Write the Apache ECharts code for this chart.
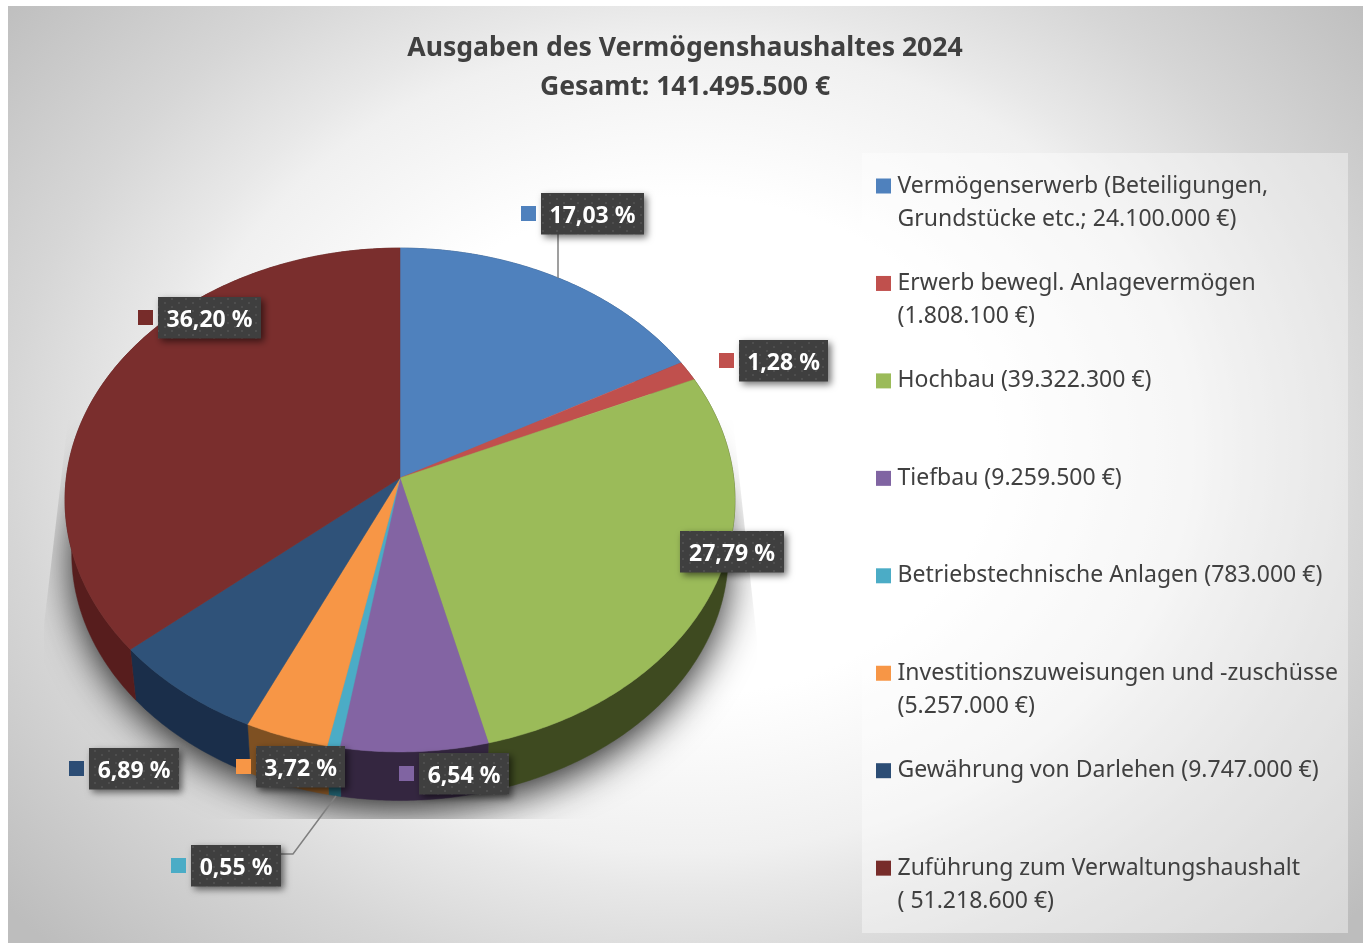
<!DOCTYPE html>
<html>
<head>
<meta charset="utf-8">
<style>html,body{margin:0;padding:0;background:#fff}#c{width:1368px;height:943px}</style>
<script src="https://cdn.jsdelivr.net/npm/echarts@6/dist/echarts.min.js"></script>
</head>
<body>
<div id="c"></div>
<script>
// ---- data ----
const categories = [
  'Vermögenserwerb (Beteiligungen,\nGrundstücke etc.; 24.100.000 €)',
  'Erwerb bewegl. Anlagevermögen\n(1.808.100 €)',
  'Hochbau (39.322.300 €)',
  'Tiefbau (9.259.500 €)',
  'Betriebstechnische Anlagen (783.000 €)',
  'Investitionszuweisungen und -zuschüsse\n(5.257.000 €)',
  'Gewährung von Darlehen (9.747.000 €)',
  'Zuführung zum Verwaltungshaushalt\n( 51.218.600 €)'
];
const values = [24100000, 1808100, 39322300, 9259500, 783000, 5257000, 9747000, 51218600];
const titleLines = ['Ausgaben des Vermögenshaushaltes 2024', 'Gesamt: 141.495.500 €'];

// ---- styles / layout ----
const topColors  = ['#4f81bd', '#c0504d', '#9bbb59', '#8364a3', '#4bacc6', '#f79646', '#2f5279', '#7a2e2d'];
const keyColors  = ['#4f81bd', '#c0504d', '#9bbb59', '#8064a2', '#4bacc6', '#f79646', '#2c4d75', '#772c2a'];
const wallColors = ['#2c4a6e', '#6e2c2a', '#3e4a20', '#342640', '#1f5a68', '#7e5022', '#1a2e4a', '#571d1d'];
// data-label boxes as placed by hand in the original [left, top, width]
const labelBoxes = [[541,193,103],[739,340,89],[680,531,104],[419,753,90],[191,845,90],[256,746,89],[89,748,90],[158,297,103]];
const FONT = '"Noto Sans", "Open Sans", sans-serif';
const CX = 400, APEX_Y = 478, K = 0.0873, A = 333.7, B = 250;
const LOWER_SCALE = 0.98, LOWER_APEX_Y = 532;
const total = values.reduce((a, b) => a + b, 0);

function rim(theta, scale, apexY) {
  const s = Math.cos(theta), u = Math.sin(theta), w = 1 + K * s;
  return [CX + A * scale * u / w, apexY - B * scale * s / w];
}
function rimPoints(t0, t1, scale, apexY) {
  const n = Math.max(2, Math.ceil((t1 - t0) / 0.01)), pts = [];
  for (let i = 0; i <= n; i++) pts.push(rim(t0 + (t1 - t0) * i / n, scale, apexY));
  return pts;
}
function dotPattern() {
  const c = document.createElement('canvas'); c.width = 14; c.height = 8;
  const g = c.getContext('2d');
  g.fillStyle = '#3f3f3f'; g.fillRect(0, 0, 14, 8);
  g.fillStyle = '#4e4e4e';
  g.fillRect(3, 2, 2, 2); g.fillRect(10, 6, 2, 2);
  return c;
}
const pattern = { image: dotPattern(), repeat: 'repeat' };
const shareText = i => (values[i] / total * 100).toFixed(2).replace('.', ',') + ' %';

function sliceItem(index) {
  return function (params, api) {
    const v = api.value(0);
    let before = 0;
    for (let i = 0; i < index; i++) before += values[i];
    const t0 = before / total * 2 * Math.PI, t1 = (before + v) / total * 2 * Math.PI;
    const upper = rimPoints(t0, t1, 1, APEX_Y);
    const lower = rimPoints(t0, t1, LOWER_SCALE, LOWER_APEX_Y).reverse();
    const [bx, by, bw] = labelBoxes[index];
    const bh = 41.5;
    const children = [
      { type: 'polygon', z2: 1, shape: { points: upper.concat(lower) },
        style: { fill: wallColors[index], stroke: wallColors[index], lineWidth: 0.5 } },
      { type: 'polygon', z2: 5, shape: { points: [[CX, APEX_Y]].concat(upper) },
        style: { fill: topColors[index], stroke: topColors[index], lineWidth: 0.5 } },
      { type: 'rect', z2: 20, shape: { x: bx, y: by, width: bw, height: bh },
        style: { fill: pattern, shadowBlur: 7, shadowOffsetX: 3, shadowOffsetY: 3, shadowColor: 'rgba(0,0,0,0.55)' } },
      { type: 'text', z2: 21, x: bx + bw / 2, y: by + bh / 2 + 2.5,
        style: { text: shareText(index), font: 'bold 23px ' + FONT, fill: '#fff', align: 'center', verticalAlign: 'middle' } },
      { type: 'rect', z2: 21, shape: { x: bx - 20, y: by + 13, width: 15, height: 15 }, style: { fill: keyColors[index] } }
    ];
    return { type: 'group', children };
  };
}

const series = values.map((v, i) => ({
  type: 'custom', name: categories[i], coordinateSystem: 'none', silent: true,
  itemStyle: { color: keyColors[i] }, z: 3,
  data: [[v]], renderItem: sliceItem(i)
}));

// soft shadow under the pie, clipped like the original picture
series.unshift({
  type: 'custom', name: 'shadow', coordinateSystem: 'none', silent: true, z: 1,
  data: [[1]],
  renderItem: () => ({
    type: 'polygon',
    shape: { points: rimPoints(0, 2 * Math.PI, 0.975, LOWER_APEX_Y) },
    style: { fill: '#777', shadowBlur: 40, shadowOffsetX: 0, shadowOffsetY: 10, shadowColor: 'rgba(0,0,0,0.9)' },
    clipPath: { type: 'polygon', shape: { points: [[68,420],[44,625],[44,819],[757,819],[757,640],[733,420]] } }
  })
});

// leader lines
series.push({
  type: 'custom', name: 'leaders', coordinateSystem: 'none', silent: true, z: 3,
  data: [[1]],
  renderItem: () => ({
    type: 'group', children: [
      { type: 'polyline', z2: 10, shape: { points: [[558,234],[558,278]] }, style: { fill: null, stroke: '#7f7f7f', lineWidth: 1.5 } },
      { type: 'polyline', z2: 10, shape: { points: [[281,854],[293,854],[336,796]] }, style: { fill: null, stroke: '#7f7f7f', lineWidth: 1.5 } }
    ]
  })
});

// one legend per entry: the original spaces them evenly, icon level with the first line.
// A blank line above a two-line entry keeps its first line centred on the icon.
const LINE = 33, ICON_FIRST = 186, ICON_STEP = 97.45;
const legends = categories.map((name, i) => {
  const two = name.indexOf('\n') >= 0;
  return {
    data: [name], orient: 'vertical', left: 876, top: ICON_FIRST + ICON_STEP * i - (two ? LINE * 1.5 : LINE * 0.5),
    padding: 0, icon: 'rect', itemWidth: 15, itemHeight: 15, selectedMode: false,
    formatter: n => (two ? '\n' + n : n),
    textStyle: { fontFamily: FONT, fontSize: 23, color: '#404040', lineHeight: LINE, padding: [0, 0, 0, 1.5] }
  };
});

const chart = echarts.init(document.getElementById('c'), null, { renderer: 'canvas' });
chart.setOption({
  animation: false,
  title: {
    text: titleLines.join('\n'), left: 685, top: 29, textAlign: 'center', padding: 0,
    textStyle: { fontFamily: FONT, fontWeight: 'bold', fontSize: 26.6, color: '#404040', lineHeight: 39 }
  },
  legend: legends,
  graphic: [
    { type: 'rect', z: -10, x: 8, y: 6, scaleX: 1.25,
      shape: { x: 0, y: 0, width: 1084, height: 937 },
      style: { fill: { type: 'radial', x: 0.5, y: 0.47, r: 0.76,
        colorStops: [{ offset: 0, color: '#ffffff' }, { offset: 0.35, color: '#ffffff' }, { offset: 0.57, color: '#f0f0f0' }, { offset: 0.62, color: '#e8e8e8' }, { offset: 0.76, color: '#d6d6d6' }, { offset: 1, color: '#bdbdbd' }] } } },
    { type: 'rect', z: -9, shape: { x: 862, y: 153, width: 486, height: 780 }, style: { fill: 'rgba(255,255,255,0.4)' } }
  ],
  series
});
</script>
</body>
</html>
